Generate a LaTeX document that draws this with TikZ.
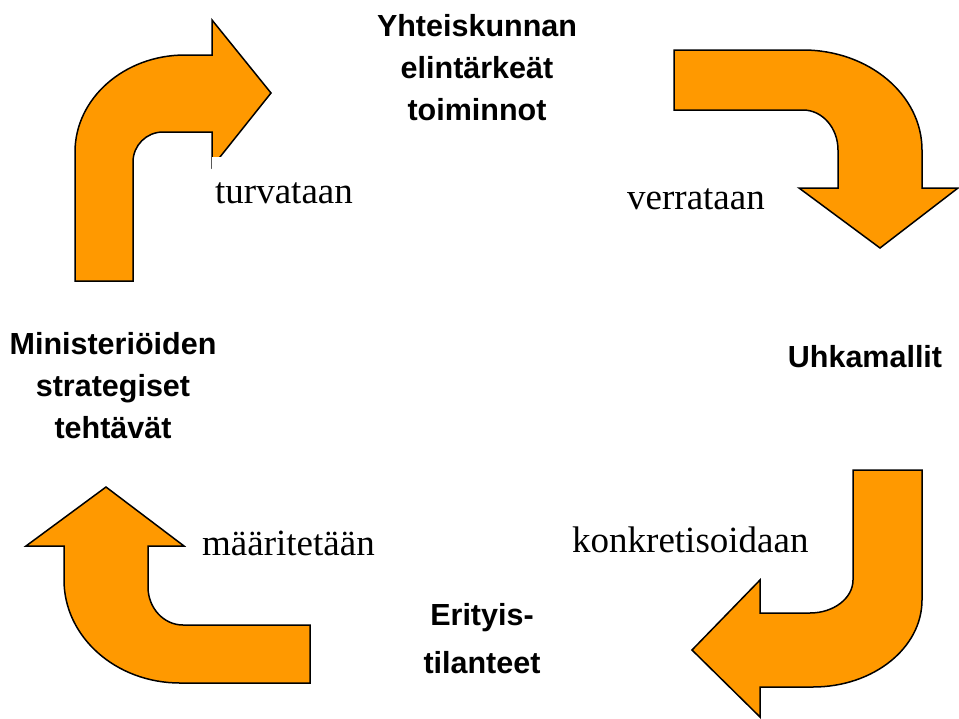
\documentclass[tikz,border=0pt]{standalone}
\usepackage{fontspec}
\setmainfont{Liberation Serif}
\newfontfamily\stagefont{Liberation Sans}
\definecolor{arroworange}{RGB}{255,153,0}
\begin{document}
\begin{tikzpicture}[x=1pt,y=-1pt,
  bentarrow/.style={fill=arroworange, draw=black, line width=1.5pt, line join=miter},
  % multi-line stages: the base anchor sits on the last line
  stage/.style={font=\stagefont\bfseries\fontsize{30.5}{42}\selectfont, align=center, inner sep=0pt, anchor=base},
  verb/.style={font=\fontsize{37}{44}\selectfont, inner sep=0pt, anchor=base west},
]
\useasboundingbox (0,0) rectangle (959,718);

% top-left: up, then right
\draw[bentarrow] (75,281) -- (75,152)
  .. controls (75,98.4) and (124.2,55) .. (185,55)
  -- (212,55) -- (212,20) -- (271,93) -- (212,167) -- (212,132) -- (163,132)
  .. controls (146.4,132) and (133,145.4) .. (133,162)
  -- (133,281) -- cycle;

% top-right: right, then down
\draw[bentarrow] (674,50) -- (803,50)
  .. controls (868.7,50) and (922,94.8) .. (922,150)
  -- (922,188) -- (958,188) -- (880,248) -- (799,188) -- (838,188) -- (838,150)
  .. controls (838,127.9) and (822.3,110) .. (803,110)
  -- (674,110) -- cycle;

% bottom-right: down, then left
\draw[bentarrow] (853,470) -- (922,470) -- (922,600)
  .. controls (922,648.1) and (873.2,687) .. (813,687)
  -- (760,687) -- (760,717) -- (692,650) -- (760,580) -- (760,613) -- (810,613)
  .. controls (833.7,613) and (853,598.2) .. (853,580)
  -- cycle;

% bottom-left: left, then up
\draw[bentarrow] (106,487) -- (184,546) -- (148,546) -- (148,587)
  .. controls (148,608) and (163.7,625) .. (183,625)
  -- (310,625) -- (310,683) -- (180,683)
  .. controls (115.9,683) and (64,636.9) .. (64,580)
  -- (64,546) -- (26,546) -- cycle;

% stages of the cycle
\node[stage] (vital) at (477,120) {Yhteiskunnan\\elintärkeät\\toiminnot};
\node[stage] (threats) at (865,367) {Uhkamallit};
\node[stage, font=\stagefont\bfseries\fontsize{30.5}{48}\selectfont] (special) at (482,673) {Erityis-\\tilanteet};
\node[stage] (ministries) at (113,438) {Ministeriöiden\\strategiset\\tehtävät};

% actions between the stages
\node[verb, fill=white, inner xsep=3pt, text height=38pt, inner ysep=8pt] (secure) at (212,203) {turvataan};
\node[verb] (compare) at (627,209) {verrataan};
\node[verb] (concretise) at (572,552) {konkretisoidaan};
\node[verb] (define) at (202,555) {määritetään};
\end{tikzpicture}
\end{document}
